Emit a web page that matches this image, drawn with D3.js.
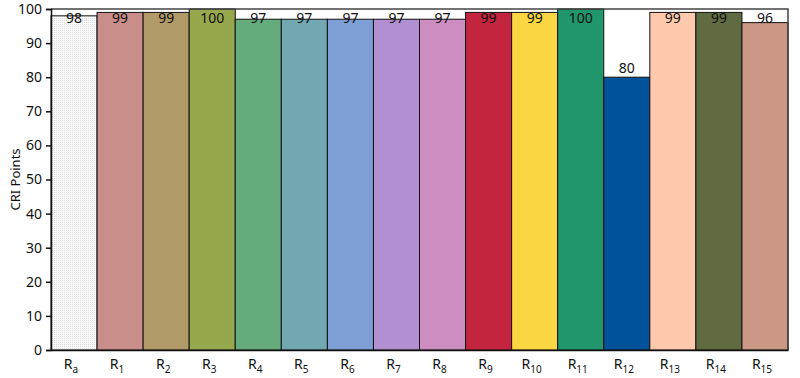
<!DOCTYPE html>
<html>
<head>
<meta charset="utf-8">
<script src="https://cdn.jsdelivr.net/npm/d3@7"></script>
<style>
  body { margin: 0; background: #fff; }
  text { font-family: "Noto Sans", "Open Sans", sans-serif; }
</style>
</head>
<body>
<svg id="chart" width="800" height="378"></svg>
<script>
// chart data
var subs = ["a", "1", "2", "3", "4", "5", "6", "7", "8", "9", "10", "11", "12", "13", "14", "15"];
var values = [98, 99, 99, 100, 97, 97, 97, 97, 97, 99, 99, 100, 80, 99, 99, 96];
var colors = ["url(#dots)", "#c98d8a", "#b09a68", "#96a84e", "#66ab7c", "#72a8b2", "#7e9fd6",
              "#b18fd0", "#cd8dc0", "#c3243e", "#fbd643", "#21966c", "#00539b", "#ffc9ad", "#616b42", "#cb9886"];
var yTicks = [0, 10, 20, 30, 40, 50, 60, 70, 80, 90, 100];

var margin = {left: 51, right: 12, top: 9, bottom: 28};
var W = 800, H = 378;
var svg = d3.select("#chart");

// dotted pattern for the first bar
var pat = svg.append("defs").append("pattern")
    .attr("id", "dots").attr("width", 2).attr("height", 2)
    .attr("patternUnits", "userSpaceOnUse");
pat.append("rect").attr("width", 2).attr("height", 2).attr("fill", "#fafafa");
pat.append("rect").attr("width", 1).attr("height", 1).attr("fill", "#d9d9d9");

var x = d3.scaleBand().domain(d3.range(values.length))
    .range([margin.left, W - margin.right]).padding(0);
var y = d3.scaleLinear().domain([0, 100]).range([H - margin.bottom, margin.top]);

// bars
svg.selectAll("rect.bar")
    .data(values)
    .enter()
    .append("rect")
    .attr("class", "bar")
    .attr("x", function(d, i) { return x(i); })
    .attr("y", function(d) { return y(d); })
    .attr("width", x.bandwidth())
    .attr("height", function(d) { return y(0) - y(d); })
    .attr("fill", function(d, i) { return colors[i]; })
    .attr("stroke", "#111")
    .attr("stroke-width", 1);

// plot frame (top and right)
svg.append("path")
    .attr("d", "M" + margin.left + "," + y(100) + "H" + (W - margin.right) + "V" + y(0))
    .attr("fill", "none").attr("stroke", "#444").attr("stroke-width", 1.5);

// value labels
svg.selectAll("text.val")
    .data(values)
    .enter()
    .append("text")
    .attr("class", "val")
    .attr("x", function(d, i) { return x(i) + x.bandwidth() / 2; })
    .attr("y", function(d) { return Math.max(y(d) - 4, 23); })
    .attr("text-anchor", "middle")
    .attr("font-size", 14)
    .attr("fill", "#111")
    .text(function(d) { return d; });

// y axis
var yAxis = svg.append("g")
    .attr("transform", "translate(" + margin.left + ",0)")
    .call(d3.axisLeft(y).tickValues(yTicks).tickSize(5).tickPadding(4));
yAxis.selectAll("text").attr("font-size", 14).attr("fill", "#111")
    .style("font-family", "'Noto Sans', sans-serif");
yAxis.selectAll("line, path").attr("stroke", "#111").attr("stroke-width", 1.5);

// x axis baseline
var xAxis = svg.append("g")
    .attr("transform", "translate(0," + y(0) + ")")
    .call(d3.axisBottom(x).tickSize(0).tickFormat(""));
xAxis.select("path").attr("stroke", "#111").attr("stroke-width", 1.5);

// x labels with subscripts
var xl = svg.selectAll("text.xl")
    .data(subs)
    .enter()
    .append("text")
    .attr("class", "xl")
    .attr("x", function(d, i) { return x(i) + x.bandwidth() / 2 - 3; })
    .attr("y", H - 9)
    .attr("text-anchor", "middle")
    .attr("font-size", 14)
    .attr("fill", "#111");
xl.append("tspan").text("R");
xl.append("tspan").attr("dy", 4).attr("font-size", 10).text(function(d) { return d; });

// y title
svg.append("text")
    .attr("transform", "translate(20," + (y(50)) + ") rotate(-90)")
    .attr("text-anchor", "middle")
    .attr("font-size", 13)
    .attr("fill", "#111")
    .text("CRI Points");
</script>
</body>
</html>
